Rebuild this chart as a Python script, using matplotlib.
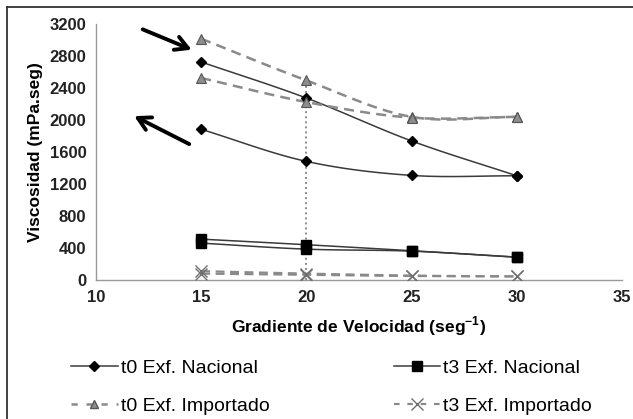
import numpy as np
import matplotlib
matplotlib.use("Agg")
import matplotlib.pyplot as plt
from matplotlib.lines import Line2D
from matplotlib import font_manager

# ---- data ----
x_vals = [15, 20, 25, 30]
t0_nac_a = [2720, 2270, 1735, 1300]
t0_nac_b = [1880, 1480, 1305, 1300]
t3_nac_a = [510, 440, 365, 285]
t3_nac_b = [460, 385, 360, 285]
t0_imp_a = [3010, 2490, 2035, 2035]
t0_imp_b = [2520, 2220, 2025, 2035]
t3_imp_a = [110, 80, 55, 45]
t3_imp_b = [80, 65, 50, 45]
legend_labels = ["t0 Exf. Nacional", "t3 Exf. Nacional",
                 "t0 Exf. Importado", "t3 Exf. Importado"]
x_ticks = [10, 15, 20, 25, 30, 35]
y_ticks = [0, 400, 800, 1200, 1600, 2000, 2400, 2800, 3200]

names = [f.name for f in font_manager.fontManager.ttflist]
fam = ["Liberation Sans Narrow"] if "Liberation Sans Narrow" in names else []
plt.rcParams["font.family"] = fam + ["Liberation Sans", "DejaVu Sans"]


def smooth(xs, ys, n=30):
    """Catmull-Rom curve through the points (Excel-like smoothed line)."""
    xs = np.asarray(xs, float)
    ys = np.asarray(ys, float)
    px = np.concatenate([[2 * xs[0] - xs[1]], xs, [2 * xs[-1] - xs[-2]]])
    py = np.concatenate([[2 * ys[0] - ys[1]], ys, [2 * ys[-1] - ys[-2]]])
    outx, outy = [], []
    t = np.linspace(0, 1, n)
    for i in range(1, len(px) - 2):
        p0, p1, p2, p3 = [np.array([px[j], py[j]]) for j in (i - 1, i, i + 1, i + 2)]
        b1 = p1 + (p2 - p0) / 6
        b2 = p2 - (p3 - p1) / 6
        pts = ((1 - t) ** 3)[:, None] * p1 + (3 * (1 - t) ** 2 * t)[:, None] * b1 \
            + (3 * (1 - t) * t ** 2)[:, None] * b2 + (t ** 3)[:, None] * p2
        outx.extend(pts[:, 0])
        outy.extend(pts[:, 1])
    return outx, outy


W, H = 633, 419
fig = plt.figure(figsize=(W / 100, H / 100), dpi=100)
ax = fig.add_axes([96 / W, 1 - 280 / H, (622 - 96) / W, (280 - 23.5) / H])

line_dark = "#3a3a3a"
gray = "#8a8a8a"

# drop line at x=20
ax.vlines(x_vals[1], 0, t0_imp_a[1], colors="#8c8c8c", linestyles=(0, (1, 1.6)), lw=1.4, zorder=1)

# t0 Nacional (diamonds)
for ys in (t0_nac_a, t0_nac_b):
    sx, sy = smooth(x_vals, ys)
    ax.plot(sx, sy, color=line_dark, lw=1.1, zorder=3)
    ax.plot(x_vals, ys, ls="none", marker="D", ms=5.5, color="black", zorder=4)

# t3 Nacional (squares)
for ys in (t3_nac_a, t3_nac_b):
    sx, sy = smooth(x_vals, ys)
    ax.plot(sx, sy, color=line_dark, lw=1.1, zorder=3)
    ax.plot(x_vals, ys, ls="none", marker="s", ms=7, color="black", zorder=4)

# t0 Importado (triangles, dashed)
for ys in (t0_imp_a, t0_imp_b):
    sx, sy = smooth(x_vals, ys)
    ax.plot(sx, sy, color=gray, lw=1.8, ls=(0, (4, 2.5)), zorder=3)
    ax.plot(x_vals, ys, ls="none", marker="^", ms=7, mfc="#8d8d8d", mec="#555555", mew=0.8, zorder=4)

# t3 Importado (x, dashed)
for ys in (t3_imp_a, t3_imp_b):
    sx, sy = smooth(x_vals, ys)
    ax.plot(sx, sy, color=gray, lw=1.6, ls=(0, (4, 2.5)), zorder=3)
    ax.plot(x_vals, ys, ls="none", marker="x", ms=9, mew=1.0, color="#707070", zorder=4)

ax.set_xlim(10, 35)
ax.set_ylim(0, 3200)
ax.set_xticks(x_ticks)
ax.set_yticks(y_ticks)
ax.tick_params(length=0, labelsize=12, pad=7, colors="#222222")
for lab in ax.get_xticklabels() + ax.get_yticklabels():
    lab.set_fontweight("bold")
for s in ("top", "right"):
    ax.spines[s].set_visible(False)
for s in ("left", "bottom"):
    ax.spines[s].set_color("#999999")
    ax.spines[s].set_linewidth(1.0)

ax.set_xlabel("Gradiente de Velocidad (seg$^{\\mathregular{-1}}$)", fontsize=12.5,
              fontweight="bold", labelpad=7)
ax.set_ylabel("Viscosidad (mPa.seg)", fontsize=12.5, fontweight="bold", labelpad=5)

# arrows
ax.annotate("", xy=(14.67, 2860), xytext=(12.1, 3140),
            arrowprops=dict(arrowstyle="->,head_length=0.9,head_width=0.5", lw=2.8, color="black"))
ax.annotate("", xy=(11.7, 2060), xytext=(14.55, 1680),
            arrowprops=dict(arrowstyle="->,head_length=0.9,head_width=0.5", lw=2.8, color="black"))

# legend
handles = [
    Line2D([], [], color=line_dark, lw=1.1, marker="D", ms=5, mfc="black", mec="black"),
    Line2D([], [], color=line_dark, lw=1.1, marker="s", ms=7, mfc="black", mec="black"),
    Line2D([], [], color=gray, lw=1.8, ls=(0, (2.5, 3.5)), marker="^", ms=6, mfc="#8d8d8d", mec="#555555"),
    Line2D([], [], color=gray, lw=1.6, ls=(0, (2.5, 3.5)), marker="x", ms=8, mec="#707070"),
]
order = [0, 2, 1, 3]
fig.legend([handles[i] for i in order], [legend_labels[i] for i in order], ncol=2, loc="upper left",
           bbox_to_anchor=(71 / W, 1 - 359 / H), frameon=False, fontsize=14,
           handlelength=2.4, handletextpad=0.15, columnspacing=6.4, labelspacing=1.05,
           borderpad=0, borderaxespad=0)

# outer frame (left and top edges)
fig.add_artist(Line2D([7 / W, 7 / W], [0, 1 - 7 / H], transform=fig.transFigure, color="#333333", lw=1.3))
fig.add_artist(Line2D([7 / W, 1], [1 - 7 / H, 1 - 7 / H], transform=fig.transFigure, color="#333333", lw=1.3))

fig.savefig("out.png", dpi=100)
